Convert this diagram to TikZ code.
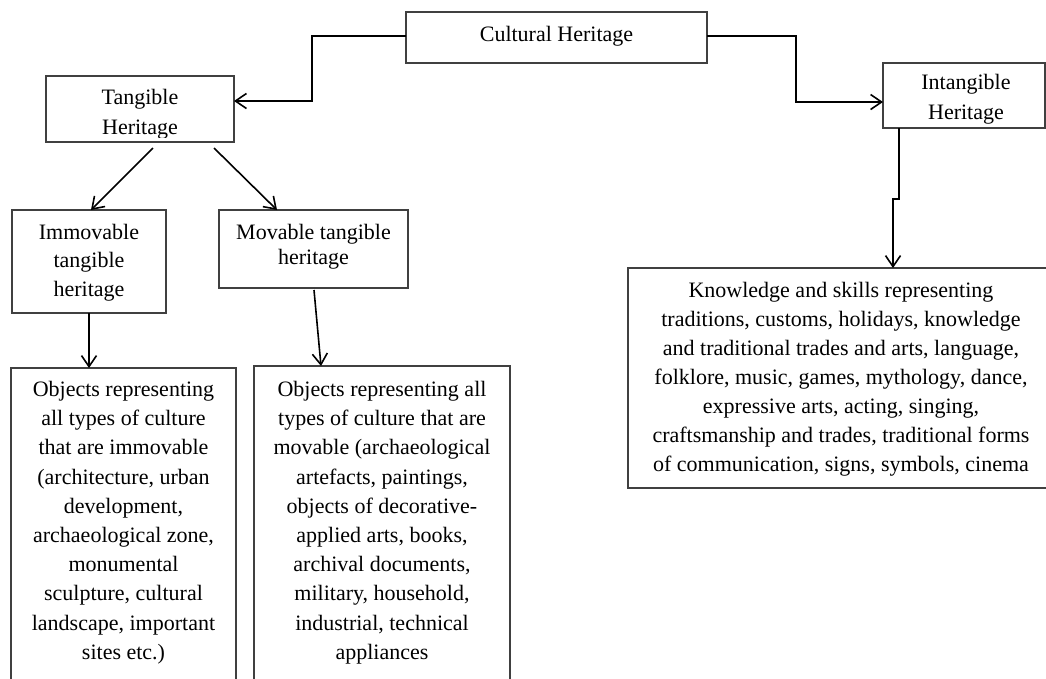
\documentclass[tikz,border=0pt]{standalone}
\usepackage{fontspec}
\setmainfont{Liberation Serif}
\usetikzlibrary{arrows.meta}
\begin{document}
\begin{tikzpicture}[x=1pt,y=-1pt,
  box/.style={draw=black!75, line width=1.1pt, inner sep=0pt, outer sep=0pt, anchor=north west},
  conn/.style={line width=1.6pt, -{Straight Barb[length=11pt,width=15pt,line width=1.6pt]}},
  txt/.style={inner sep=0pt, outer sep=0pt, align=center, anchor=north, font=\fontsize{22}{#1}\selectfont},
  txt/.default=29.2]
\useasboundingbox (0,0) rectangle (1046,678);
\clip (0,0) rectangle (1046,678);
\fill[white] (0,0) rectangle (1046,678);

% boxes
\node[box, minimum width=301pt, minimum height=51pt]  (cult)   at (406,12)  {};
\node[box, minimum width=188pt, minimum height=66pt]  (tang)   at (46,76)   {};
\node[box, minimum width=162pt, minimum height=65pt]  (intang) at (883,63)  {};
\node[box, minimum width=154pt, minimum height=103pt] (immov)  at (12,210)  {};
\node[box, minimum width=189pt, minimum height=78pt]  (mov)    at (219,210) {};
\node[box, minimum width=225pt, minimum height=330pt] (objimm) at (11,368)  {};
\node[box, minimum width=256pt, minimum height=330pt] (objmov) at (254,366) {};
\node[box, minimum width=419pt, minimum height=220pt] (know)   at (628,268) {};

% texts
\node[txt] (cultt) at (556.5,20.6) {\strut Cultural Heritage};
\begin{scope}
  \clip (tang.north west) rectangle (tang.east |- 0,137);
  \node[txt=30] (tangt) at (140,83.6) {\strut Tangible\\Heritage};
\end{scope}
\begin{scope}
  \clip (intang.north west) rectangle (intang.east |- 0,124);
  \node[txt=30] (intangt) at (966,68.3) {\strut Intangible\\Heritage};
\end{scope}
\node[txt=28.5] (immovt) at (89,219.5) {\strut Immovable\\tangible\\heritage};
\node[txt=24.5] (movt) at (313.5,222.4) {\strut Movable tangible\\heritage};
\node[txt] (objimmt) at (123.5,376.1) {\strut Objects representing\\all types of culture\\that are immovable\\(architecture, urban\\development,\\archaeological zone,\\monumental\\sculpture, cultural\\landscape, important\\sites etc.)};
\node[txt] (objmovt) at (382,376.1) {\strut Objects representing all\\types of culture that are\\movable (archaeological\\artefacts, paintings,\\objects of decorative-\\applied arts, books,\\archival documents,\\military, household,\\industrial, technical\\appliances};
\node[txt=29] (knowt) at (841,276.7) {\strut Knowledge and skills representing\\traditions, customs, holidays, knowledge\\and traditional trades and arts, language,\\folklore, music, games, mythology, dance,\\expressive arts, acting, singing,\\craftsmanship and trades, traditional forms\\of communication, signs, symbols, cinema};

% bend / free-end coordinates
\coordinate (b1) at (312,36);
\coordinate (b2) at (312,101);
\coordinate (b3) at (796,36);
\coordinate (b4) at (796,102);
\coordinate (s1) at (153,148);
\coordinate (e1) at (91,210);
\coordinate (s2) at (214,148);
\coordinate (e2) at (277,210);
\coordinate (s3) at (314,290);
\coordinate (e3) at (321,366);
\coordinate (b5) at (899,199);
\coordinate (b6) at (893,199);

% connectors
\draw[conn] (cult.west |- b1) -- (b1) -- (b2) -- (tang.east |- b2);
\draw[conn] (cult.east |- b3) -- (b3) -- (b4) -- (intang.west |- b4);
\draw[conn] (s1) -- (e1 |- immov.north);
\draw[conn] (s2) -- (e2 |- mov.north);
\draw[conn] (immov.south) -- (immov.south |- objimm.north);
\draw[conn] (s3) -- (e3 |- objmov.north);
\draw[conn] (intang.south -| b5) -- (b5) -- (b6) -- (b6 |- know.north);
\end{tikzpicture}
\end{document}
